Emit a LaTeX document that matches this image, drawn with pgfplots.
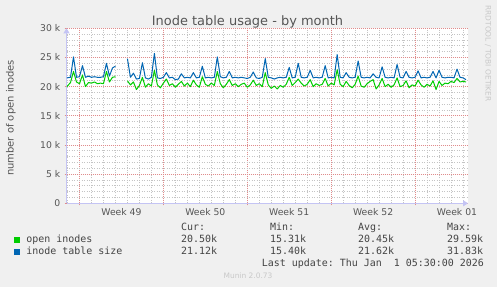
\documentclass[border=0pt]{standalone}
\usepackage{pgfplots}
\pgfplotsset{compat=1.18}
\usepackage{pgfplotstable}
\usepackage{fontspec}
\setmainfont{DejaVu Sans}
\setmonofont{DejaVu Sans Mono}
\usetikzlibrary{arrows.meta}
\definecolor{bg}{HTML}{F0F0F0}
\definecolor{mgreen}{HTML}{00CC00}
\definecolor{mblue}{HTML}{0066B3}
\definecolor{txt}{HTML}{555555}
\definecolor{ltxt}{HTML}{444444}
\definecolor{majgrid}{HTML}{E08C8C}
\definecolor{mingrid}{HTML}{C4C4C4}
\definecolor{axiscol}{HTML}{C4C4F4}
\definecolor{faint}{HTML}{C8C8C8}

\pgfplotstableread{
d g b
-1.05 20.0 21.5
-0.75 20.7 21.6
-0.5 22.6 25.1
-0.25 20.8 21.6
0.0 20.5 21.7
0.25 22.0 23.6
0.5 20.0 21.6
0.75 20.7 21.8
1.0 20.6 21.6
1.25 20.8 21.7
1.5 20.5 21.6
1.75 20.6 21.6
2.0 20.5 21.7
2.25 22.6 24.0
2.5 20.8 21.8
2.75 21.6 23.2
3.0 21.7 23.5
3.5 nan nan
4.0 21.0 24.8
4.25 20.3 21.6
4.5 20.8 22.3
4.75 19.5 21.3
5.0 20.2 21.4
5.25 21.6 24.1
5.5 19.9 21.5
5.75 20.5 21.3
6.0 20.1 21.6
6.25 22.8 25.7
6.5 20.3 21.5
6.75 19.8 21.4
7.0 20.6 21.6
7.25 21.3 22.4
7.5 20.2 21.5
7.75 20.5 21.6
8.0 19.9 21.2
8.25 20.4 21.3
8.5 20.9 22.2
8.75 20.1 21.5
9.0 20.6 21.6
9.25 20.0 21.5
9.5 21.1 22.4
9.75 20.3 21.5
10.0 19.9 21.6
10.25 21.7 23.5
10.5 20.4 21.5
10.75 20.1 21.6
11.0 20.6 21.5
11.25 20.2 21.6
11.5 22.6 25.1
11.75 20.5 21.7
12.0 19.8 21.5
12.25 20.4 21.6
12.5 21.2 22.6
12.75 20.2 21.5
13.0 20.5 21.6
13.25 20.0 21.5
13.5 20.4 21.6
13.75 20.6 21.5
14.0 19.9 21.4
14.25 20.3 21.6
14.5 21.1 22.5
14.75 20.2 21.5
15.0 20.5 21.4
15.25 20.0 21.6
15.5 22.4 24.8
15.75 20.3 21.6
16.0 19.7 21.5
16.25 20.1 21.3
16.5 19.6 21.5
16.75 20.2 21.6
17.0 19.9 21.5
17.25 20.4 21.6
17.5 21.6 23.3
17.75 20.2 21.5
18.0 20.7 21.6
18.25 21.3 24.0
18.5 20.6 21.6
18.75 20.1 21.5
19.0 20.4 21.6
19.25 21.2 22.8
19.5 20.0 21.5
19.75 20.5 21.6
20.0 20.2 21.5
20.25 20.4 21.6
20.5 21.4 23.6
20.75 20.1 21.5
21.0 20.6 21.6
21.25 20.3 21.5
21.5 22.9 25.5
21.75 20.4 21.6
22.0 20.0 21.5
22.25 20.9 22.4
22.5 20.2 21.6
22.75 19.8 21.5
23.0 20.4 21.6
23.25 21.8 24.4
23.5 20.1 21.6
23.75 19.9 21.5
24.0 20.5 21.6
24.25 20.9 21.5
24.5 21.2 22.2
24.75 19.6 21.6
25.0 20.3 21.5
25.25 21.4 23.4
25.5 20.0 21.6
25.75 20.4 21.5
26.0 19.9 21.6
26.25 20.3 21.5
26.5 21.5 23.8
26.75 20.0 21.6
27.0 20.2 21.5
27.25 21.0 22.6
27.5 19.8 21.6
27.75 20.3 21.5
28.0 20.1 21.6
28.25 21.1 22.7
28.5 20.3 21.5
28.75 19.9 21.6
29.0 20.4 21.5
29.25 20.1 21.6
29.5 21.0 22.6
29.75 19.5 21.5
30.0 20.9 22.8
30.25 20.2 21.6
30.5 20.6 21.5
30.75 20.5 21.6
31.0 20.9 21.6
31.25 20.7 21.5
31.5 21.4 23.0
31.75 20.8 21.6
32.0 20.9 21.5
32.25 20.8 21.2
}\data

\begin{document}
\begin{tikzpicture}[x=1bp,y=1bp]
\useasboundingbox (0,0) rectangle (497,287);
\fill[bg] (0,0) rectangle (497,287);
\begin{axis}[
  at={(66.5bp,83.7bp)}, anchor=south west,
  scale only axis, width=401.5bp, height=175bp,
  xmin=-1.0833, xmax=32.4167, ymin=0, ymax=30,
  axis background/.style={fill=white},
  axis x line=bottom, axis y line=left,
  every outer x axis line/.append style={draw=axiscol, line width=1bp, -{Triangle[length=5bp,width=6bp]}},
  every outer y axis line/.append style={draw=axiscol, line width=1bp, -{Triangle[length=5bp,width=6bp]}},
  unbounded coords=jump,
  xtick={0,7,14,21,28}, xticklabels={,,,,},
  minor xtick={-1,1,2,3,4,5,6,8,9,10,11,12,13,15,16,17,18,19,20,22,23,24,25,26,27,29,30,31,32},
  extra x ticks={3.5,10.5,17.5,24.5,31.5},
  extra x tick labels={Week 49,Week 50,Week 51,Week 52,Week 01},
  extra x tick style={grid=none, major tick length=0pt,
     xticklabel style={font=\fontsize{9.3}{10}\selectfont, text=txt, inner sep=0pt, yshift=-5bp}},
  ytick={0,5,10,15,20,25,30},
  yticklabels={0,5 k,10 k,15 k,20 k,25 k,30 k},
  minor y tick num=4,
  yticklabel style={font=\fontsize{9.3}{10}\selectfont, text=txt, inner sep=0pt, xshift=-4bp},
  grid=both,
  major grid style={draw=majgrid, line width=0.9bp, dash pattern=on 1bp off 1bp},
  minor grid style={draw=mingrid, line width=0.9bp, dash pattern=on 1bp off 1.5bp},
  tick align=outside, major tick length=2bp, minor tick length=0pt,
  tick style={draw=majgrid, line width=0.8bp},
]
\addplot[mgreen, line width=1bp, no marks, line join=round] table[x=d,y=g]{\data};
\addplot[mblue, line width=1bp, no marks, line join=round] table[x=d,y=b]{\data};
\end{axis}
% title and labels
\node[anchor=base, text=txt, font=\fontsize{13}{15}\selectfont] at (247.5,262) {Inode table usage - by month};
\node[rotate=90, text=txt, font=\fontsize{10}{12}\selectfont, anchor=center] at (11,169) {number of open inodes};
\node[rotate=-90, text=faint, font=\fontsize{7.5}{9}\selectfont, anchor=center] at (488,233.5) {RRDTOOL / TOBI OETIKER};
% legend
\begin{scope}[every node/.style={anchor=base west, inner sep=0pt, text=ltxt, font=\ttfamily\fontsize{10}{12}\selectfont}]
\node at (181,56.3) {Cur:};
\node at (270,56.3) {Min:};
\node at (358,56.3) {Avg:};
\node at (447,56.3) {Max:};
\node at (26.3,44.3) {open inodes};
\node at (181,44.3) {20.50k};
\node at (270,44.3) {15.31k};
\node at (358,44.3) {20.45k};
\node at (447,44.3) {29.59k};
\node at (26.3,32.3) {inode table size};
\node at (181,32.3) {21.12k};
\node at (270,32.3) {15.40k};
\node at (358,32.3) {21.62k};
\node at (447,32.3) {31.83k};
\node at (261.7,20.3) {Last update: Thu Jan~~1 05:30:00 2026};
\end{scope}
\fill[mgreen] (14,43.7) rectangle (20,49.7);
\fill[mblue] (14,31.7) rectangle (20,37.7);
\node[anchor=base, text=faint, font=\fontsize{7.5}{9}\selectfont] at (248,8.7) {Munin 2.0.73};
\end{tikzpicture}
\end{document}
